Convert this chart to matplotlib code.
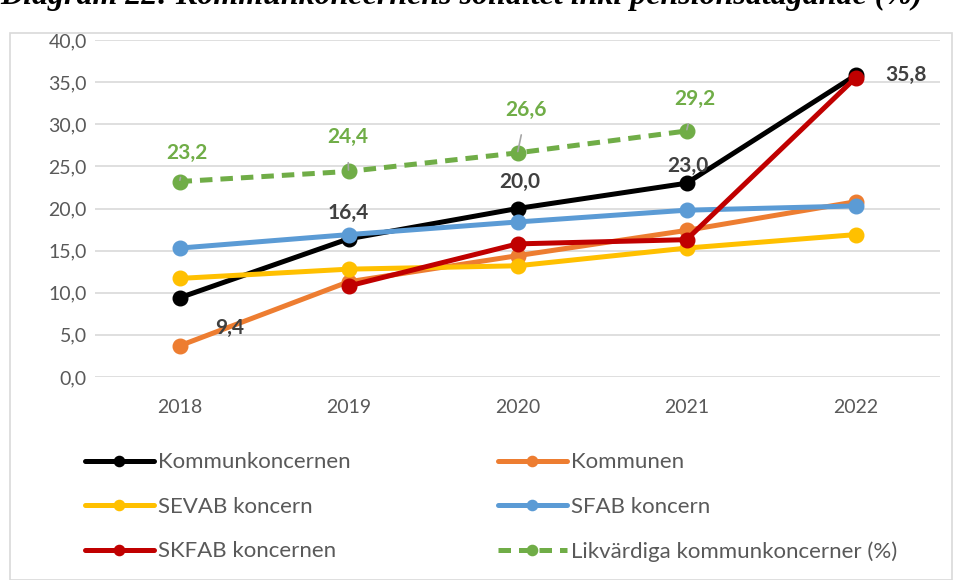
import numpy as np
import matplotlib
matplotlib.use('Agg')
import matplotlib.pyplot as plt
from matplotlib.patches import Rectangle

plt.rcParams['font.family'] = ['Lato', 'DejaVu Sans']

years = ['2018', '2019', '2020', '2021', '2022']
kommunkoncernen = [9.4, 16.4, 20.0, 23.0, 35.8]
kommunen = [3.7, 11.3, 14.4, 17.4, 20.8]
sevab = [11.7, 12.8, 13.2, 15.3, 16.9]
sfab = [15.3, 16.9, 18.4, 19.8, 20.3]
skfab = [np.nan, 10.8, 15.8, 16.3, 35.5]
likvardiga = [23.2, 24.4, 26.6, 29.2, np.nan]

fig = plt.figure(figsize=(9.54, 5.8), dpi=100)
fig.patches.append(Rectangle((10/954, 0), 942/954, 1 - 33/580, transform=fig.transFigure,
                             fill=False, edgecolor='#d9d9d9', linewidth=1.2))
# title sits partly above the image edge, as in the original crop
fig.text(0.0, 1 + 4/580, 'Diagram 22: Kommunkoncernens soliditet inkl pensionsåtagande (%)',
         family='Liberation Serif', style='italic', weight='bold', fontsize=23, va='center')

ax = fig.add_axes([95/954, 1 - 377/580, 845/954, 337/580])
x = np.arange(len(years))

series = [
    ('Kommunkoncernen', kommunkoncernen, '#000000'),
    ('Kommunen', kommunen, '#ed7d31'),
    ('SEVAB koncern', sevab, '#ffc000'),
    ('SFAB koncern', sfab, '#5b9bd5'),
    ('SKFAB koncernen', skfab, '#c00000'),
]
handles = []
for name, vals, col in series:
    h, = ax.plot(x, vals, color=col, lw=3.6, marker='o', ms=10.5, label=name, solid_capstyle='round')
    handles.append(h)
h, = ax.plot(x, likvardiga, color='#70ad47', lw=3.6, ls=(0, (2.5, 1.6)), marker='o', ms=10.5,
             label='Likvärdiga kommunkoncerner (%)')
handles.append(h)

# data labels (offsets in pixels -> points)
px = 0.72
lab_kw = dict(fontsize=15, fontweight='bold', color='#404040', ha='center', va='center')
black_off = [(50, -30), (0, 26), (2, 27), (1, 17), (50, 0)]
for i, (dx, dy) in enumerate(black_off):
    ax.annotate(f'{kommunkoncernen[i]:.1f}'.replace('.', ','), (i, kommunkoncernen[i]),
                xytext=(dx * px, dy * px), textcoords='offset points', **lab_kw)

green_off = [(7, 29), (-1, 34), (9, 43), (8, 32)]
for i, (dx, dy) in enumerate(green_off):
    ax.annotate(f'{likvardiga[i]:.1f}'.replace('.', ','), (i, likvardiga[i]),
                xytext=(dx * px, dy * px), textcoords='offset points', ha='center', va='center',
                fontsize=15, fontweight='bold', color='#70ad47',
                arrowprops=dict(arrowstyle='-', color='#a6a6a6', lw=1.2, shrinkA=9, shrinkB=1))

ax.set_xlim(-0.5, 4.5)
ax.set_ylim(0, 40)
ax.set_yticks(np.arange(0, 41, 5))
ax.set_yticklabels([f'{v:.1f}'.replace('.', ',') for v in np.arange(0, 41, 5)])
ax.set_xticks(x)
ax.set_xticklabels(years)
ax.grid(axis='y', color='#d9d9d9', lw=1.2)
ax.set_axisbelow(True)
for s in ax.spines.values():
    s.set_visible(False)
ax.tick_params(length=0, labelsize=14, labelcolor='#595959')
ax.tick_params(axis='x', pad=16)
ax.tick_params(axis='y', pad=6)

# matplotlib fills legend column-wise; reorder so rows read like the original
order = [0, 2, 4, 1, 3, 5]
ax.legend([handles[i] for i in order], [handles[i].get_label() for i in order],
          loc='upper left', bbox_to_anchor=(-10/845, -0.224), ncol=2, frameon=False,
          borderpad=0, borderaxespad=0, fontsize=16,
          labelcolor='#595959', handlelength=3.1, handletextpad=0.2,
          columnspacing=6.6, labelspacing=1.1, markerscale=0.7)

fig.savefig('out.png', dpi=100)
